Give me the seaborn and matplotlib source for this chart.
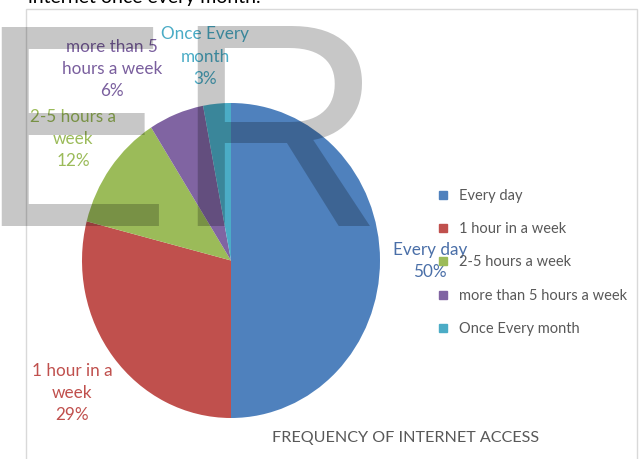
import matplotlib
matplotlib.use("Agg")
import matplotlib.pyplot as plt
import seaborn as sns
from matplotlib.lines import Line2D
from matplotlib.patches import Rectangle

# ---- data ----
categories = ["Every day", "1 hour in a week", "2-5 hours a week",
              "more than 5 hours a week", "Once Every month"]
values = [50, 29, 12, 6, 3]
label_names = ["Every day", "1 hour in a\nweek", "2-5 hours a\nweek",
               "more than 5\nhours a week", "Once Every\nmonth"]
title = "FREQUENCY OF INTERNET ACCESS"
top_text = "internet once every month."

colors = ["#4F81BD", "#C0504D", "#9BBB59", "#8064A2", "#4BACC6"]
label_colors = ["#4A6FA8", "#C0504D", "#9BBB59", "#7A5F9E", "#4BACC6"]

sns.set_theme(style="white")
plt.rcParams['font.family'] = ['Lato', 'DejaVu Sans']

W, H = 639, 459
fig = plt.figure(figsize=(W / 100, H / 100), dpi=100)
fig.patch.set_facecolor("white")


def fx(px):
    return px / W


def fy(py):
    return 1 - py / H


# chart frame
fig.patches.append(Rectangle((fx(26), fy(470)), fx(611), 470 / H - 9 / H,
                             transform=fig.transFigure, fill=False,
                             edgecolor="#d9d9d9", linewidth=1.0, zorder=0))

# cut-off text at the top
fig.text(fx(28), fy(2.5), top_text, fontsize=14, color="black",
         va="baseline", ha="left")

# pie
left, right, top, bottom = 82, 380, 103, 418
ax = fig.add_axes([fx(left), fy(bottom), fx(right - left), (bottom - top) / H])
ax.pie(values, colors=colors, startangle=90, counterclock=False,
       wedgeprops=dict(linewidth=0))
ax.set_aspect("auto")
ax.set_xlim(-1, 1)
ax.set_ylim(-1, 1)
ax.axis("off")

# data labels (pixel centres)
label_pos = [(430, 261), (72, 393), (73, 139), (112, 69), (205, 57)]
for name, v, c, (px, py) in zip(label_names, values, label_colors, label_pos):
    fig.text(fx(px), fy(py), f"{name}\n{v}%", ha="center", va="center",
             fontsize=12.3, color=c, linespacing=1.5)

# legend
handles = [Line2D([], [], marker="s", linestyle="", markersize=6,
                  markerfacecolor=c, markeredgecolor=c) for c in colors]
leg = fig.legend(handles, categories, loc="upper left",
                 bbox_to_anchor=(fx(439), fy(189)), frameon=False,
                 fontsize=10.5, labelspacing=1.32, handlelength=0.6,
                 handletextpad=0.75, borderpad=0, borderaxespad=0)
for t in leg.get_texts():
    t.set_color("#595959")

# title
fig.text(fx(406), fy(438), title, ha="center", va="center",
         fontsize=11.6, color="#595959")

# watermark letters
em = 290
fig.text(fx(-0.079 * em), fy(226), "E", family="Liberation Sans",
         fontsize=em * 0.72, color="black", alpha=0.22, va="baseline",
         ha="left", zorder=10)
fig.text(fx(197 - 0.081 * em), fy(226), "R", family="Liberation Sans",
         fontsize=em * 0.72, color="black", alpha=0.22, va="baseline",
         ha="left", zorder=10)

fig.savefig("out.png", dpi=100)
